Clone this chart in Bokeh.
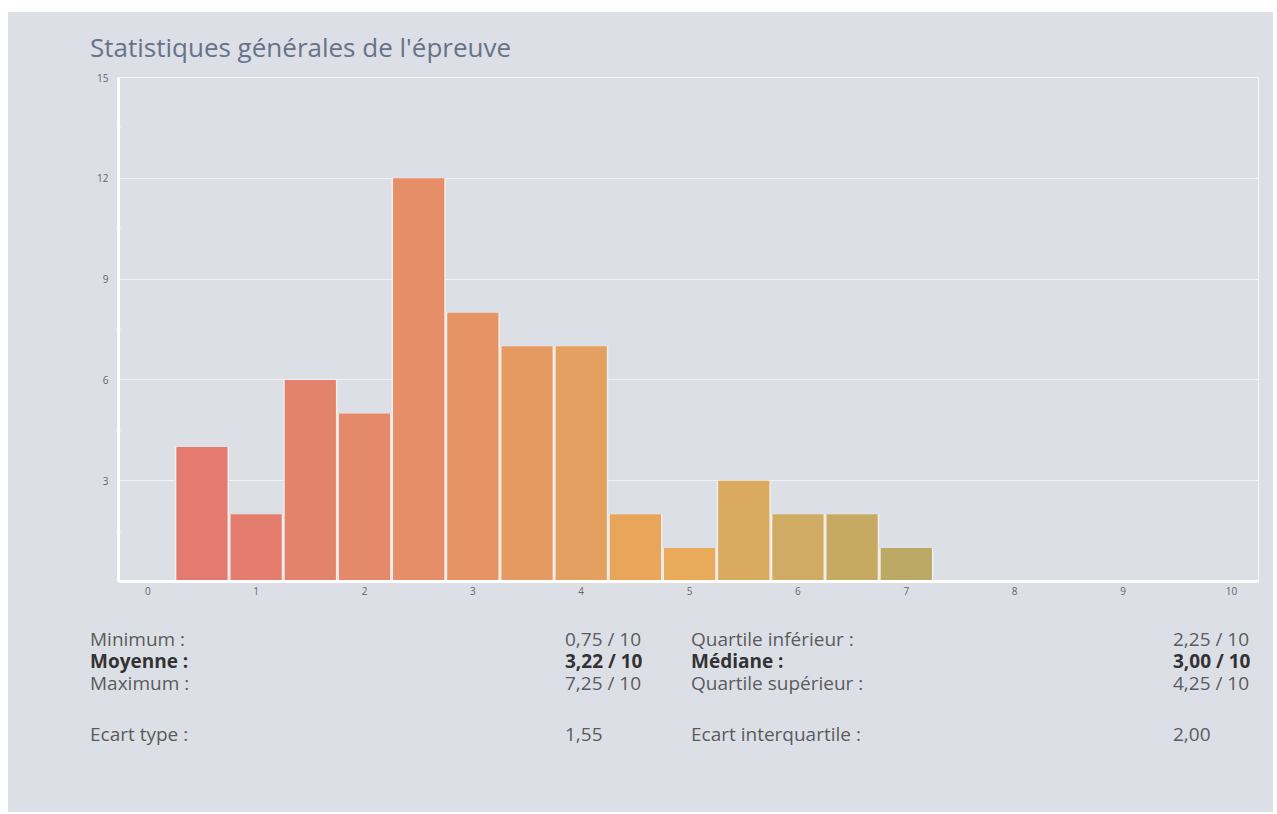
from bokeh.plotting import figure
from bokeh.layouts import column, row
from bokeh.models import Range1d, FixedTicker, ColumnDataSource, Div, Spacer
from bokeh.embed import file_html
from bokeh.resources import INLINE

# ---------------- data ----------------
title_text = "Statistiques générales de l'épreuve"
bin_centers = [0.5, 1.0, 1.5, 2.0, 2.5, 3.0, 3.5, 4.0, 4.5, 5.0, 5.5, 6.0, 6.5, 7.0]
counts = [4, 2, 6, 5, 12, 8, 7, 7, 2, 1, 3, 2, 2, 1]
bin_width = 0.5
x_ticks = [0, 1, 2, 3, 4, 5, 6, 7, 8, 9, 10]
y_ticks = [3, 6, 9, 12, 15]
y_minor = [1.5, 4.5, 7.5, 10.5, 13.5]

left_labels = ["Minimum :", "Moyenne :", "Maximum :", "Ecart type :"]
left_values = ["0,75 / 10", "3,22 / 10", "7,25 / 10", "1,55"]
right_labels = ["Quartile inférieur :", "Médiane :", "Quartile supérieur :", "Ecart interquartile :"]
right_values = ["2,25 / 10", "3,00 / 10", "4,25 / 10", "2,00"]
bold_rows = [1]

# ---------------- styles / layout ----------------
bar_colors = ["#e47a70", "#e57d6e", "#e4836b", "#e4896a", "#e68e68", "#e69464",
              "#e59a61", "#e4a060", "#e9a65b", "#e9aa5a", "#daab5f", "#cfab63",
              "#c6aa64", "#bbaa66"]
BG = "#dcdfe6"
FONT = "Open Sans"
W = 1265
TITLE_H, STATS_H = 55, 206
MB_LEFT, MB_RIGHT, MB_TOP, MB_BOTTOM = 110, 15, 10, 25
FRAME_H = 504

# ---------------- title ----------------
title_div = Div(
    text=(f'<div style="position:relative;width:{W}px;height:{TITLE_H}px;">'
          f'<span style="position:absolute;left:82px;top:17px;white-space:nowrap;'
          f'font-family:\'{FONT}\';font-size:26px;line-height:normal;color:#667389;">'
          f'{title_text}</span></div>'),
    width=W, height=TITLE_H, margin=0,
    styles={"background-color": BG})

# ---------------- chart ----------------
p = figure(width=W, height=MB_TOP + FRAME_H + MB_BOTTOM, output_backend="svg",
           toolbar_location=None,
           x_range=Range1d(-0.27, 10.25), y_range=Range1d(0, 15),
           min_border_left=MB_LEFT, min_border_right=MB_RIGHT,
           min_border_top=MB_TOP, min_border_bottom=MB_BOTTOM)
p.background_fill_color = BG
p.border_fill_color = BG
p.outline_line_color = "white"
p.outline_line_alpha = 0.7
p.outline_line_width = 1

src = ColumnDataSource(dict(x=bin_centers, top=counts, color=bar_colors))
p.vbar(x="x", top="top", width=bin_width, bottom=0, source=src,
       fill_color="#f3eee9", line_color=None)
p.vbar(x="x", top="top", width=bin_width * 0.945, bottom=0, source=src,
       fill_color="color", line_color=None)

p.xgrid.visible = False
p.ygrid.ticker = FixedTicker(ticks=y_ticks)
p.ygrid.grid_line_color = "white"
p.ygrid.grid_line_alpha = 0.6
p.ygrid.grid_line_width = 1
p.ygrid.level = "underlay"

p.xaxis.ticker = FixedTicker(ticks=x_ticks)
p.yaxis.ticker = FixedTicker(ticks=y_ticks, minor_ticks=y_minor)
for ax in (p.xaxis[0], p.yaxis[0]):
    ax.axis_line_color = "white"
    ax.axis_line_width = 3
    ax.major_tick_line_color = None
    ax.major_tick_out = 0
    ax.major_tick_in = 0
    ax.major_label_text_font = FONT
    ax.major_label_text_font_size = "10px"
    ax.major_label_text_color = "#666666"
p.xaxis.minor_tick_line_color = None
p.yaxis.minor_tick_line_color = "white"
p.yaxis.minor_tick_line_alpha = 0.7
p.yaxis.minor_tick_in = 2
p.yaxis.minor_tick_out = 2
p.yaxis.minor_tick_line_width = 2
p.xaxis.major_label_standoff = 5
p.yaxis.major_label_standoff = 8

# ---------------- stats ----------------
row_tops = [23, 45, 67, 118]
col_lefts = [82, 557, 683, 1165]
spans = []
for col_x, texts in zip(col_lefts, (left_labels, left_values, right_labels, right_values)):
    for i, t in enumerate(texts):
        bold = i in bold_rows
        weight = "bold" if bold else "normal"
        color = "#333333" if bold else "#5b5b5b"
        spans.append(
            f'<div style="position:absolute;left:{col_x}px;top:{row_tops[i]}px;height:20px;'
            f'overflow:visible;white-space:nowrap;font-family:\'{FONT}\';font-size:19px;'
            f'line-height:20px;font-weight:{weight};color:{color};">{t}</div>')
stats_div = Div(
    text=f'<div style="position:relative;width:{W}px;height:{STATS_H}px;">' + "".join(spans) + '</div>',
    width=W, height=STATS_H, margin=0,
    styles={"background-color": BG})

panel = column(title_div, p, stats_div, spacing=0, styles={"background-color": BG})
layout = column(Spacer(width=W, height=12), row(Spacer(width=8, height=10), panel, spacing=0), spacing=0)
open("out.html", "w").write(file_html(layout, INLINE))
